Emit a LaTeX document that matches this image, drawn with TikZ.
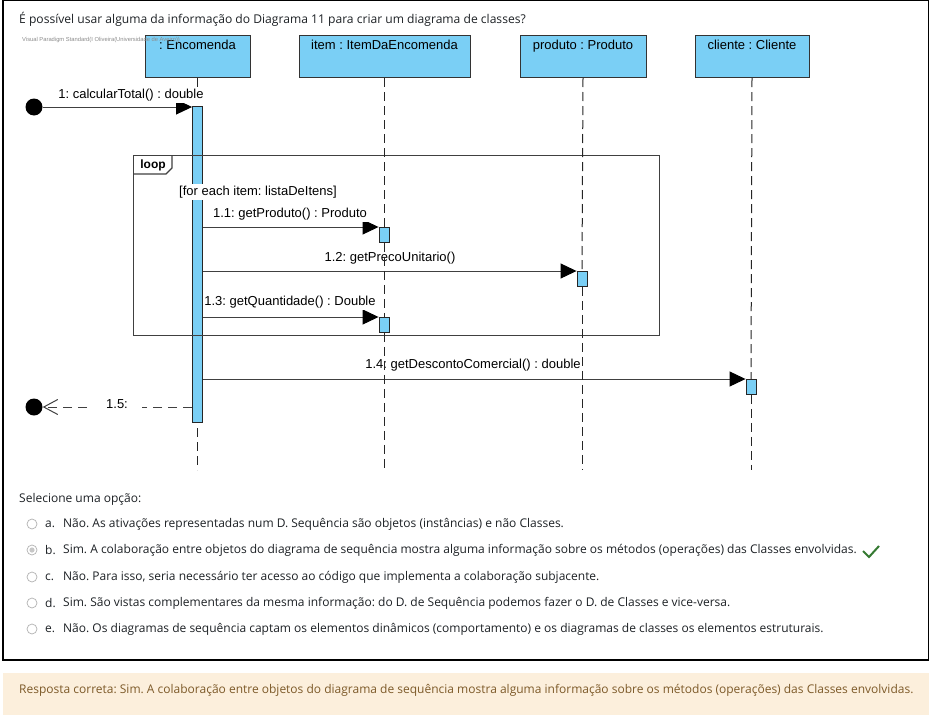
\documentclass[tikz,border=0pt]{standalone}
\usepackage{fontspec}
\setmainfont{Open Sans}
\newfontfamily\umlfont{Liberation Sans}
\usepackage{tikz}
\usetikzlibrary{arrows.meta,positioning}
\frenchspacing
\definecolor{vpblue}{RGB}{122,207,245}
\definecolor{uitext}{RGB}{29,33,37}
\definecolor{okgreen}{RGB}{53,122,50}
\definecolor{warnbg}{RGB}{252,239,220}
\definecolor{warntext}{RGB}{125,90,41}
\tikzset{
  head/.style={draw=black!80,fill=vpblue,line width=1pt,minimum height=42,anchor=north,inner sep=0pt},
  act/.style={draw=black!85,fill=vpblue,line width=0.9pt,minimum width=10,anchor=north,inner sep=0pt},
  life/.style={draw=black!85,line width=1pt,dash pattern=on 9pt off 5pt},
  msg/.style={draw=black!75,line width=1pt,-{Triangle[length=16pt,width=15pt,color=black]}},
  ret/.style={draw=black!75,line width=1pt,dash pattern=on 9pt off 6pt,-{Straight Barb[length=14pt,width=15pt]}},
  lbl/.style={font=\umlfont\fontsize{13}{15}\selectfont,fill=white,inner sep=1.5pt},
  hdtxt/.style={font=\umlfont\fontsize{13}{15}\selectfont,inner sep=0pt},
  pin/.style={circle,fill=black,minimum size=17,inner sep=0pt},
  ui/.style={font=\fontsize{12}{14}\selectfont,text=uitext,anchor=west,inner sep=0pt},
  radio/.style={circle,draw=black!30,fill=white,minimum size=10,inner sep=0pt,line width=0.7pt}
}
\begin{document}
\begin{tikzpicture}[x=1pt,y=-1pt]
\useasboundingbox (0,0) rectangle (929,715);
\fill[white] (0,0) rectangle (929,715);
\draw[line width=1.2pt] (3,0.6) rectangle (928.4,660);
\node[ui,font=\fontsize{12.1}{14}\selectfont] (q) at (19,19) {É possível usar alguma da informação do Diagrama 11 para criar um diagrama de classes?};

% lifeline heads
\node[head,minimum width=105] (enc) at (197.5,35) {};
\node[head,minimum width=171] (item) at (384.5,35) {};
\node[head,minimum width=126] (prod) at (583,35) {};
\node[head,minimum width=114] (cli) at (752,35) {};
\node[hdtxt,below=5pt of enc.north] (encT) {: Encomenda};
\node[hdtxt,below=5pt of item.north] (itemT) {item : ItemDaEncomenda};
\node[hdtxt,below=5pt of prod.north] (prodT) {produto : Produto};
\node[hdtxt,below=5pt of cli.north] (cliT) {cliente : Cliente};
\node[font=\umlfont\fontsize{5.8}{7}\selectfont,text=black!45,anchor=west,inner sep=0pt] (vp) at (22,40) {Visual Paradigm Standard(I Oliveira(Universidade de Aveiro))};

\coordinate (bot) at (0,470);
\draw[life] (enc.south) -- (enc.south |- bot);
\node[act,minimum height=316] (a0) at (197.5,106) {};

% loop fragment
\node[draw=black!75,line width=1.2pt,minimum width=526,minimum height=180,anchor=north west,inner sep=0pt] (loop) at (133,155) {};
\draw[black!75,line width=1.2pt] (133,174) -- (166,174) -- (172,168) -- (172,155);
\node[font=\umlfont\bfseries\fontsize{12}{14}\selectfont,inner sep=0pt] (loopT) at (153,165) {loop};

% messages
\node[pin] (start) at (34,107) {};
\node[pin] (stop) at (34,407) {};
\node[act,minimum height=15] (a11) at (384,227) {};
\node[act,minimum height=15] (a12) at (582,271) {};
\node[act,minimum height=15] (a13) at (384,317) {};
\node[act,minimum height=15] (a14) at (751,379) {};
\draw[msg] (start) -- (start -| a0.west);
\draw[msg] (a0.east |- a11.north) -- (a11.north west);
\draw[msg] (a0.east |- a12.north) -- (a12.north west);
\draw[msg] (a0.east |- a13.north) -- (a13.north west);
\draw[msg] (a0.east |- a14.north) -- (a14.north west);
\draw[ret] (a0.west |- stop) -- (stop);

\node[lbl] (m1) at (131,95) {1: calcularTotal() : double};
\node[lbl] (g) at (258,192) {[for each item: listaDeItens]};
\node[lbl,inner xsep=6pt] (m11) at (290,214) {1.1: getProduto() : Produto};
\node[lbl] (m12) at (390,258) {1.2: getPrecoUnitario()};
\node[lbl] (m13) at (290,302) {1.3: getQuantidade() : Double};
\node[lbl,fill=none] (m14) at (473,365) {1.4: getDescontoComercial() : double};
\node[lbl,inner xsep=14pt] (m15) at (117,404) {1.5:};

\draw[life] (item.south) -- (item.south |- a11.north);
\draw[life] (a11.south) -- (a13.north);
\draw[life] (a13.south) -- (a13.south |- bot);
\draw[life] (prod.south) -- (a12.north);
\draw[life] (a12.south) -- (a12.south |- bot);
\draw[life] (cli.south) -- (a14.north);
\draw[life] (a14.south) -- (a14.south |- bot);

% options
\node[ui] (sel) at (19,499) {Selecione uma opção:};
\foreach \y/\l/\t in {524/a/{Não. As ativações representadas num D. Sequência são objetos (instâncias) e não Classes.},
  550/b/{Sim. A colaboração entre objetos do diagrama de sequência mostra alguma informação sobre os métodos (operações) das Classes envolvidas.},
  577/c/{Não. Para isso, seria necessário ter acesso ao código que implementa a colaboração subjacente.},
  603/d/{Sim. São vistas complementares da mesma informação: do D. de Sequência podemos fazer o D. de Classes e vice-versa.},
  629/e/{Não. Os diagramas de sequência captam os elementos dinâmicos (comportamento) e os diagramas de classes os elementos estruturais.}}{
  \node[radio] (r\l) at (32,\y) {};
  \node[ui] (k\l) at (45,\y) {\l.};
  \node[ui] (o\l) at (63,\y) {\t};
}
\fill[black!22] (rb) circle (2.6);
\draw[okgreen,line width=2pt] (863,551) -- (869,557) -- (879,546);

% feedback
\fill[warnbg] (3,673) rectangle (929,715);
\node[ui,text=warntext] (resp) at (19,690) {Resposta correta: Sim. A colaboração entre objetos do diagrama de sequência mostra alguma informação sobre os métodos (operações) das Classes envolvidas.};
\end{tikzpicture}
\end{document}
